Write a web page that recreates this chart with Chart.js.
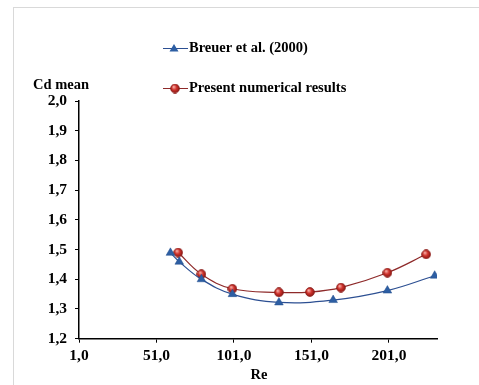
<!DOCTYPE html>
<html>
<head>
<meta charset="utf-8">
<script src="https://cdn.jsdelivr.net/npm/chart.js@4/dist/chart.umd.min.js"></script>
<style>
  html, body { margin: 0; padding: 0; background: #fff; }
  #wrap { width: 479px; height: 385px; position: relative; }
</style>
</head>
<body>
<div id="wrap"><canvas id="myChart"></canvas></div>
<script>
// data
const breuerRe = [60, 65.7, 80, 100, 130, 165, 200, 230.5];
const breuerCd = [1.489, 1.459, 1.400, 1.350, 1.322, 1.330, 1.362, 1.412];
const presentRe = [65, 80, 100, 130, 150, 170, 200, 225];
const presentCd = [1.490, 1.417, 1.368, 1.356, 1.357, 1.372, 1.422, 1.484];
const xTicks = [1, 51, 101, 151, 201];
const yTicks = [1.2, 1.3, 1.4, 1.5, 1.6, 1.7, 1.8, 1.9, 2.0];

const font = 'Liberation Serif';
const comma = v => Number(v).toFixed(1).replace('.', ',');

// little shaded ball for the red markers
const makeBall = () => {
    const c = document.createElement('canvas');
    c.width = 10; c.height = 10;
    const g = c.getContext('2d');
    const grad = g.createRadialGradient(3.6, 3.2, 0.4, 5, 5, 5);
    grad.addColorStop(0, '#f7b0a8');
    grad.addColorStop(0.45, '#d0322c');
    grad.addColorStop(1, '#7c1410');
    g.fillStyle = grad;
    g.beginPath();
    g.arc(5, 5, 4.4, 0, Math.PI * 2);
    g.fill();
    g.strokeStyle = '#8a1a16';
    g.lineWidth = 0.8;
    g.stroke();
    return c;
};
const ball = makeBall();

const toPoints = (xs, ys) => xs.map((x, i) => ({ x: x, y: ys[i] }));

// frame + white background
const framePlugin = {
    id: 'frame',
    beforeDraw(chart) {
        const ctx = chart.ctx;
        ctx.save();
        ctx.fillStyle = '#fff';
        ctx.fillRect(0, 0, chart.width, chart.height);
        ctx.strokeStyle = '#d9d9d9';
        ctx.lineWidth = 1;
        ctx.strokeRect(13.5, 7.5, 480, 400);
        ctx.restore();
    }
};

// legend and axis titles drawn by hand
const textPlugin = {
    id: 'texts',
    afterDraw(chart) {
        const ctx = chart.ctx;
        ctx.save();
        ctx.fillStyle = '#000';
        ctx.textBaseline = 'middle';
        ctx.font = 'bold 14.5px ' + font;
        ctx.textAlign = 'left';
        ctx.fillText('Cd mean', 33, 85);
        ctx.textAlign = 'center';
        ctx.fillText('Re', 259, 375);

        const rows = [48, 88];
        chart.data.datasets.forEach((ds, i) => {
            const y = rows[i];
            ctx.strokeStyle = ds.borderColor;
            ctx.lineWidth = 1;
            ctx.beginPath();
            ctx.moveTo(163, y + 0.5);
            ctx.lineTo(188, y + 0.5);
            ctx.stroke();
            if (ds.pointStyle === 'triangle') {
                ctx.fillStyle = ds.pointBackgroundColor;
                ctx.beginPath();
                ctx.moveTo(174, y - 4);
                ctx.lineTo(178.5, y + 3.5);
                ctx.lineTo(169.5, y + 3.5);
                ctx.closePath();
                ctx.fill();
            } else {
                ctx.drawImage(ball, 170, y - 4.5);
            }
            ctx.fillStyle = '#000';
            ctx.textAlign = 'left';
            ctx.font = 'bold 14.5px ' + font;
            ctx.fillText(ds.label, 189, y);
        });
        ctx.restore();
    }
};

const makeChart = () => {
    const chart1 = document.getElementById('myChart');
    new Chart(chart1, {
        type: 'scatter',
        data: {
            datasets: [
                {
                    label: 'Breuer et al. (2000)',
                    data: toPoints(breuerRe, breuerCd),
                    showLine: true,
                    tension: 0.4,
                    borderColor: '#2c4f92',
                    borderWidth: 1.2,
                    pointStyle: 'triangle',
                    pointRadius: 5,
                    pointBackgroundColor: '#2d5ea3',
                    pointBorderColor: '#24508e',
                    pointBorderWidth: 0.5
                },
                {
                    label: 'Present numerical results',
                    data: toPoints(presentRe, presentCd),
                    showLine: true,
                    tension: 0.4,
                    borderColor: '#8e2a2a',
                    borderWidth: 1.2,
                    pointStyle: ball,
                    pointRadius: 5
                }
            ]
        },
        options: {
            responsive: false,
            animation: false,
            devicePixelRatio: 1,
            layout: { padding: { left: 0, top: 101, right: 42, bottom: 0 } },
            plugins: {
                legend: { display: false },
                tooltip: { enabled: false }
            },
            scales: {
                x: {
                    type: 'linear',
                    min: 1,
                    max: 232,
                    afterBuildTicks: s => { s.ticks = xTicks.map(v => ({ value: v })); },
                    afterFit: s => { s.height = 46.3; },
                    grid: { drawOnChartArea: false, drawTicks: true, tickLength: 4, color: '#000' },
                    border: { display: true, color: '#000', width: 1.5 },
                    ticks: {
                        color: '#000',
                        padding: 4,
                        maxRotation: 0,
                        font: { family: font, weight: 'bold', size: 15.5 },
                        callback: v => comma(v)
                    }
                },
                y: {
                    type: 'linear',
                    min: 1.2,
                    max: 2.0,
                    afterBuildTicks: s => { s.ticks = yTicks.map(v => ({ value: v })); },
                    afterFit: s => { s.width = 79; },
                    grid: { drawOnChartArea: false, drawTicks: true, tickLength: 4, color: '#000' },
                    border: { display: true, color: '#000', width: 1.5 },
                    ticks: {
                        color: '#000',
                        padding: 8,
                        font: { family: font, weight: 'bold', size: 15.5 },
                        callback: v => comma(v)
                    }
                }
            }
        },
        plugins: [framePlugin, textPlugin]
    });
};

const canvas = document.getElementById('myChart');
canvas.width = 479;
canvas.height = 385;
makeChart();
</script>
</body>
</html>
